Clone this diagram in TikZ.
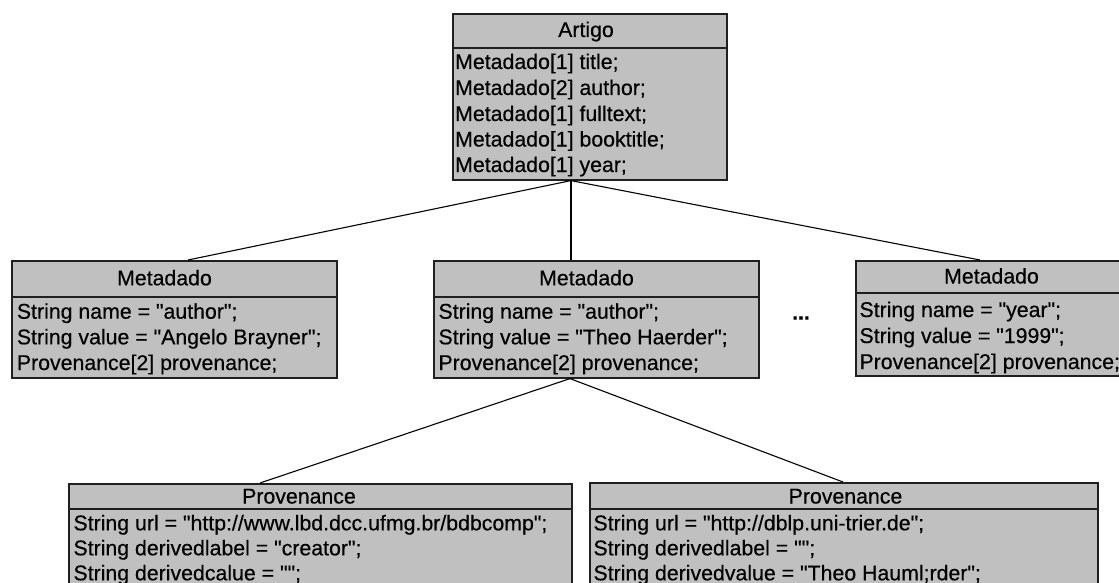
\documentclass[tikz,border=0pt]{standalone}
\usepackage{fontspec}
\setmainfont{Liberation Sans}[Ligatures=TeXOff, FakeBold=0.4]
\usetikzlibrary{calc}
\definecolor{boxfill}{HTML}{C0C0C0}
\definecolor{boxline}{HTML}{202020}
\newcommand\umlfont{\fontsize{21.3}{25}\selectfont}
\tikzset{
  classbox/.style={draw=boxline, fill=boxfill, line width=1.6pt, inner sep=0pt, anchor=north west},
  divider/.style={draw=boxline, line width=1.6pt},
  link/.style={draw=black, line width=1.1pt},
  field/.style={anchor=base west, inner sep=0pt, font=\umlfont},
  classname/.style={anchor=base, inner sep=0pt, font=\umlfont},
}
\begin{document}
\begin{tikzpicture}[x=1pt, y=-1pt]
\useasboundingbox (0,0) rectangle (1119,583);
\clip (0,0) rectangle (1119,583);

% class boxes
\node[classbox, minimum width=274pt, minimum height=166pt] (artigo) at (452,13) {};
\node[classbox, minimum width=325pt, minimum height=117pt] (mL) at (11,260) {};
\node[classbox, minimum width=325pt, minimum height=117pt] (mM) at (433,260) {};
\node[classbox, minimum width=280pt, minimum height=115pt] (mR) at (855,260) {};
\node[classbox, minimum width=503pt, minimum height=120pt] (pL) at (68,483) {};
\node[classbox, minimum width=508pt, minimum height=120pt] (pR) at (589,482) {};

% header dividers
\draw[divider] ($(artigo.north west)+(0,35)$) -- ($(artigo.north east)+(0,35)$);
\draw[divider] ($(mL.north west)+(0,37)$) -- ($(mL.north east)+(0,37)$);
\draw[divider] ($(mM.north west)+(0,37)$) -- ($(mM.north east)+(0,37)$);
\draw[divider] ($(mR.north west)+(0,33)$) -- ($(mR.north east)+(0,33)$);
\draw[divider] ($(pL.north west)+(0,26)$) -- ($(pL.north east)+(0,26)$);
\draw[divider] ($(pR.north west)+(0,27)$) -- ($(pR.north east)+(0,27)$);

% connector end points
\coordinate (artigo-out) at ($(artigo.south west)+(119,0)$);
\coordinate (mL-in) at ($(mL.north west)+(177,0)$);
\coordinate (mM-in) at ($(mM.north west)+(138,0)$);
\coordinate (mR-in) at ($(mR.north west)+(125,0)$);
\coordinate (mM-out) at ($(mM.south west)+(137,0)$);
\coordinate (pL-in) at ($(pL.north west)+(192,0)$);
\coordinate (pR-in) at ($(pR.north west)+(254,0)$);

\draw[link] (artigo-out) -- (mL-in);
\draw[link] (artigo-out) -- (mM-in);
\draw[link] (artigo-out) -- (mR-in);
\draw[link] (mM-out) -- (pL-in);
\draw[link] (mM-out) -- (pR-in);

% Artigo
\node[classname] (artigo-h) at (586,37) {Artigo};
\node[field] (artigo-1) at (455,69) {Metadado[1] title;};
\node[field] (artigo-2) at (455,95) {Metadado[2] author;};
\node[field] (artigo-3) at (455,121) {Metadado[1] fulltext;};
\node[field] (artigo-4) at (455,146.5) {Metadado[1] booktitle;};
\node[field] (artigo-5) at (455,172) {Metadado[1] year;};

% Metadado (left)
\node[classname] (mL-h) at (164.5,285.3) {Metadado};
\node[field] (mL-1) at (16.7,318.7) {String name = "author";};
\node[field] (mL-2) at (16.7,344.3) {String value = "Angelo Brayner";};
\node[field] (mL-3) at (16.7,370) {Provenance[2] provenance;};

% Metadado (middle)
\node[classname] (mM-h) at (586.5,285.3) {Metadado};
\node[field] (mM-1) at (438.3,318.7) {String name = "author";};
\node[field] (mM-2) at (438.3,344.3) {String value = "Theo Haerder";};
\node[field] (mM-3) at (438.3,370) {Provenance[2] provenance;};

% Metadado (right)
\node[classname] (mR-h) at (991.5,283.5) {Metadado};
\node[field] (mR-1) at (859.3,317) {String name = "year";};
\node[field] (mR-2) at (859.3,343) {String value = "1999";};
\node[field] (mR-3) at (859.3,369) {Provenance[2] provenance;};

\node[inner sep=0pt, font=\umlfont\bfseries] (more) at (801,318) {...};

% Provenance (left)
\node[classname] (pL-h) at (299,503.5) {Provenance};
\node[field] (pL-1) at (73.3,530.3) {String url = "http://www.lbd.dcc.ufmg.br/bdbcomp";};
\node[field] (pL-2) at (73.3,555.3) {String derivedlabel = "creator";};
\node[field] (pL-3) at (73.3,580.3) {String derivedcalue = "";};

% Provenance (right)
\node[classname] (pR-h) at (845.5,503.5) {Provenance};
\node[field] (pR-1) at (593.3,530.3) {String url = "http://dblp.uni-trier.de";};
\node[field] (pR-2) at (593.3,555.3) {String derivedlabel = "";};
\node[field] (pR-3) at (593.3,580.3) {String derivedvalue = "Theo Hauml;rder";};
\end{tikzpicture}
\end{document}
